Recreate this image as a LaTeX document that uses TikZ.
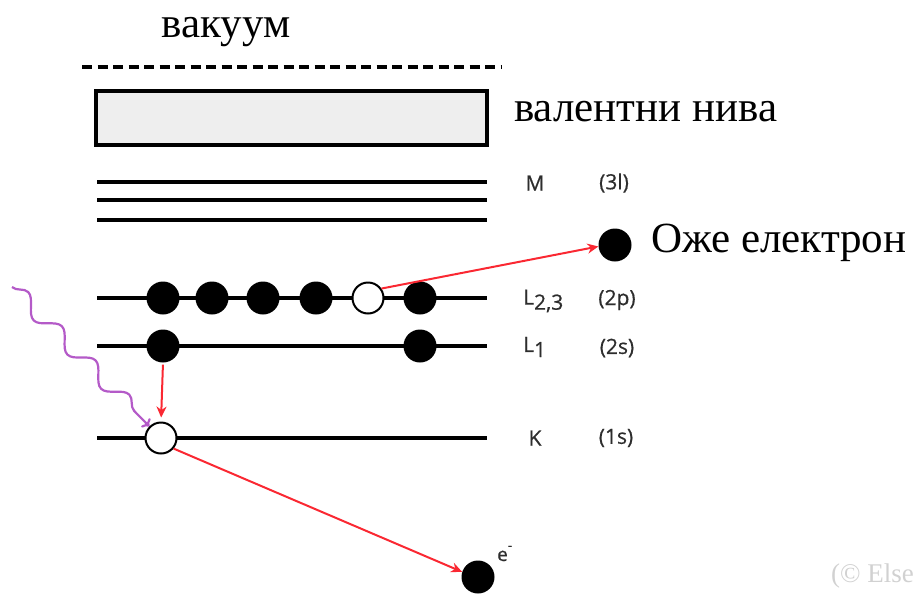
\documentclass[tikz,border=0pt]{standalone}
\usepackage{fontspec}
\setmainfont{Liberation Serif}
\newfontfamily\shellfont[FakeBold=0.6]{Open Sans}
\usetikzlibrary{arrows.meta,decorations.pathmorphing}

\definecolor{jumpred}{RGB}{250,40,50}
\definecolor{photonviolet}{RGB}{180,90,200}
\definecolor{bandgray}{RGB}{238,238,238}
\definecolor{shellgray}{RGB}{45,45,45}

\tikzset{
  level/.style={line width=3.4pt},
  full/.style={circle,fill=black,minimum size=33pt,inner sep=0pt},
  hole/.style={circle,draw=black,line width=2pt,fill=white,minimum size=31pt,inner sep=0pt},
  jump/.style={jumpred,line width=2pt,-{Stealth[length=11pt,width=10pt]}},
  shell/.style={font=\shellfont\fontsize{21}{21}\selectfont,text=shellgray,inner sep=0pt},
  bigtext/.style={font=\fontsize{43}{48}\selectfont,inner sep=0pt}
}

\begin{document}
\begin{tikzpicture}[x=1pt,y=1pt,yscale=-1]
\useasboundingbox (0,0) rectangle (916,595);

%Straight Lines: vacuum level
\draw [line width=3.6pt,dash pattern=on 10pt off 5.5pt] (82,67) -- (502,67);
%Shape: Rectangle: valence band
\draw [line width=3.6pt,fill=bandgray] (96,91) rectangle (487,145);

%Straight Lines: M shell
\foreach \yy in {182,200,220}
  \draw [level] (97,\yy) -- (487,\yy);
%Straight Lines: L and K shells
\draw [level] (97,298) -- (487,298);
\draw [level] (97,346) -- (487,346);
\draw [level] (97,438) -- (487,438);

%Electrons L_{2,3}
\node [full] (l23a) at (163,298) {};
\node [full] (l23b) at (212,298) {};
\node [full] (l23c) at (263,298) {};
\node [full] (l23d) at (316,298) {};
\node [hole] (l23h) at (368,298) {};
\node [full] (l23e) at (420,298) {};
%Electrons L_1
\node [full] (l1a) at (163,346) {};
\node [full] (l1b) at (420,346) {};
%Hole K
\node [hole] (kh) at (161,438) {};
%Emitted electrons
\node [full] (auger) at (615,245) {};
\node [full] (photo) at (478,577) {};

%Arrows
\draw [jump,shorten <=2pt,shorten >=4pt] (l1a.south) -- (kh.north);
\draw [jump] (kh.-40) -- (photo.162);
\draw [jump] (l23h.35) -- (auger.185);
%Photon
\coordinate (gamma) at (12,287);
\draw [photonviolet,line width=2.2pt,-{To[length=6pt]},
       decorate,decoration={snake,amplitude=8pt,segment length=48pt,post length=10pt}]
  (gamma) -- (kh.135);

% Text Node
\node [bigtext,anchor=base] (vac) at (226,37) {вакуум};
\node [bigtext,anchor=west] (val) at (514,112) {валентни нива};
\node [bigtext,anchor=west] (augl) at (651,243) {Оже електрон};
% Shell labels
\node [shell] (m) at (535,183) {M};
\node [shell] (m3) at (614,183) {(3l)};
\node [shell,anchor=west] (l23) at (523,301) {L\raisebox{-0.45ex}{2,3}};
\node [shell] (l23p) at (617,300) {(2p)};
\node [shell,anchor=west] (l1) at (523,347) {L\raisebox{-0.45ex}{1}};
\node [shell] (l1s) at (617,348) {(2s)};
\node [shell] (k) at (535,438) {K};
\node [shell] (ks) at (616,438) {(1s)};
\node [shell,anchor=base west,font=\shellfont\fontsize{19}{19}\selectfont] (el) at (497,561) {e\raisebox{1.1ex}{\fontsize{13}{13}\selectfont -}};
\node [font=\fontsize{27}{27}\selectfont,text=black!18,anchor=west,inner sep=0pt] (copy) at (831,576) {(© Else};

\end{tikzpicture}
\end{document}
